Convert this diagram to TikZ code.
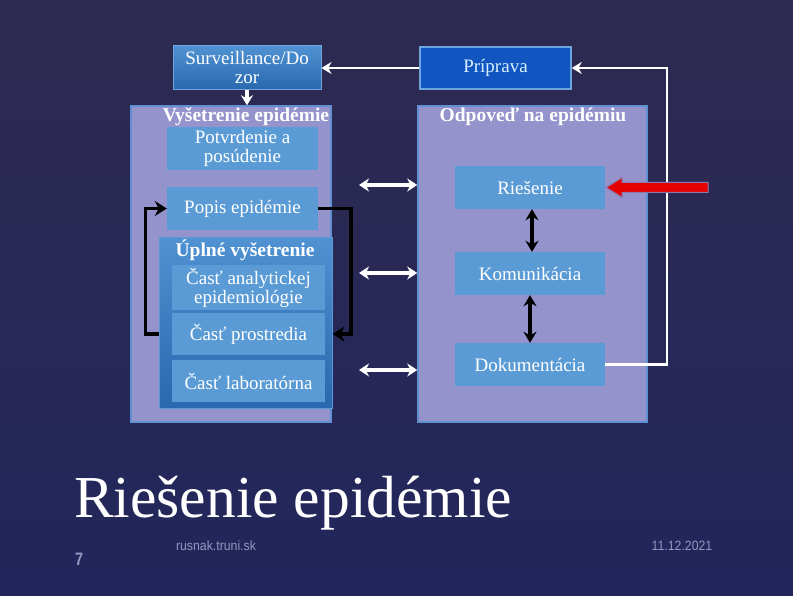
\documentclass[tikz,border=0pt]{standalone}
\usepackage{fontspec}
\setmainfont{Liberation Serif}
\newfontfamily\footfont{Liberation Sans}
\usetikzlibrary{arrows.meta}
\definecolor{bgtop}{RGB}{46,42,80}
\definecolor{bgbot}{RGB}{34,38,92}
\definecolor{lav}{RGB}{148,147,204}
\definecolor{lavedge}{RGB}{95,145,210}
\definecolor{sbox}{RGB}{91,155,213}
\definecolor{sedge}{RGB}{110,165,220}
\definecolor{prip}{RGB}{17,85,192}
\definecolor{uptop}{RGB}{80,145,210}
\definecolor{upbot}{RGB}{40,105,175}
\definecolor{footgray}{RGB}{150,150,190}
\definecolor{redarr}{RGB}{230,0,0}
\tikzset{
  bigbox/.style={draw=lavedge, line width=1.5pt, fill=lav, minimum width=#1, minimum height=316pt, inner sep=0pt},
  smallbox/.style={fill=sbox, text=white, minimum width=151pt, minimum height=43pt, inner sep=1pt, align=center, font=\fontsize{19}{19}\selectfont},
  boxtitle/.style={text=white, font=\bfseries\fontsize{19.5}{19.5}\selectfont, inner sep=0pt},
  blackarr/.style={draw=black, line width=3.5pt, -{Stealth[length=12pt,width=15pt]}},
  blackdbl/.style={draw=black, line width=3.5pt, {Stealth[length=11pt,width=13pt]}-{Stealth[length=11pt,width=13pt]}},
  whitearr/.style={draw=white, line width=2.5pt, -{Stealth[length=10pt,width=12pt]}},
  whitedbl/.style={draw=white, line width=3.5pt, {Stealth[length=10pt,width=13pt]}-{Stealth[length=10pt,width=13pt]}},
}
\begin{document}
\begin{tikzpicture}[x=1pt,y=-1pt]
\shade[top color=bgtop, bottom color=bgbot] (0,0) rectangle (793,596);
\useasboundingbox (0,0) rectangle (793,596);

% big boxes
\node[bigbox=200pt] (leftbig) at (231,264) {};
\node[bigbox=229pt] (rightbig) at (532.5,264) {};
\node[boxtitle] (lt) at (246,117) {Vyšetrenie epidémie};
\node[boxtitle] (rt) at (533,117) {Odpoveď na epidémiu};

% top boxes
\node[draw=sedge, line width=1pt, top color=uptop, bottom color=upbot, text=white, minimum width=148pt, minimum height=44pt, align=center, inner sep=1pt, font=\fontsize{19}{19}\selectfont] (surv) at (247,68) {Surveillance/Do\\zor};
\node[draw=sedge, line width=1.5pt, fill=prip, text={rgb,255:red,215;green,240;blue,255}, minimum width=151pt, minimum height=42pt, font=\fontsize{19}{19}\selectfont] (prip) at (495.5,68) {Príprava};

% left column boxes
\node[smallbox] (potv) at (242.5,148.5) {Potvrdenie a\\posúdenie};
\node[smallbox] (popis) at (242.5,208.5) {Popis epidémie};
\node[draw=sbox, line width=1pt, top color=uptop, bottom color=upbot, minimum width=173pt, minimum height=170pt, inner sep=0pt] (uplne) at (245.5,323) {};
\node[boxtitle] (ut) at (245,250) {Úplné vyšetrenie};
\node[smallbox, minimum width=153pt, minimum height=45pt] (anal) at (248.5,287.5) {Časť analytickej\\epidemiológie};
\node[smallbox, minimum width=153pt, minimum height=42pt] (prost) at (248.5,334) {Časť prostredia};
\node[smallbox, minimum width=153pt, minimum height=42pt] (lab) at (248.5,381) {Časť laboratórna};

% right column boxes
\node[smallbox, minimum width=150pt] (ries) at (530,187.5) {Riešenie};
\node[smallbox, minimum width=150pt] (komu) at (530,273.5) {Komunikácia};
\node[smallbox, minimum width=150pt] (doku) at (530,364.5) {Dokumentácia};

% black loop arrows
\draw[blackarr] (prost.west -| uplne.west) -- ++(-13,0) |- (popis.west);
\draw[blackarr] (popis.east) -- ++(33,0) |- (prost.east -| uplne.east);

% black double arrows
\draw[blackdbl] ([xshift=2pt]ries.south) -- ([xshift=2pt]komu.north);
\draw[blackdbl] (komu.south) -- (doku.north);

% white arrows
\draw[whitearr] (prip.west) -- (surv.east |- prip.west);
\draw[whitearr, line width=4pt] (surv.south) -- (leftbig.north -| surv.south);
\draw[whitearr, line width=2.5pt] (doku.east) -- ++(62,0) |- (prip.east);

% white double arrows between columns
\coordinate (wa1) at (359,185);
\coordinate (wa2) at (359,273);
\coordinate (wa3) at (359,370);
\draw[whitedbl] (wa1) -- (rightbig.west |- wa1);
\draw[whitedbl] (wa2) -- (rightbig.west |- wa2);
\draw[whitedbl] (wa3) -- (rightbig.west |- wa3);

% red block arrow
\draw[fill=redarr, draw={rgb,255:red,140;green,120;blue,170}, line width=1pt]
  ([xshift=1pt]ries.east) -- ++(16,-10) -- ++(0,5) -- ++(86,0) -- ++(0,10) -- ++(-86,0) -- ++(0,5) -- cycle;

% title and footer
\node[anchor=base west, text=white, inner sep=0pt, font=\fontsize{59.5}{59.5}\selectfont] (title) at (74,517) {Riešenie epidémie};
\node[anchor=base west, text=footgray, inner sep=0pt, font=\footfont\bfseries\fontsize{18}{18}\selectfont, xscale=0.8] (pnum) at (75,565) {7};
\node[anchor=base, text=footgray, inner sep=0pt, font=\footfont\fontsize{13.5}{13.5}\selectfont, xscale=0.91] (url) at (216,550) {rusnak.truni.sk};
\node[anchor=base, text=footgray, inner sep=0pt, font=\footfont\fontsize{13.5}{13.5}\selectfont, xscale=0.91] (date) at (682,550) {11.12.2021};
\end{tikzpicture}
\end{document}
